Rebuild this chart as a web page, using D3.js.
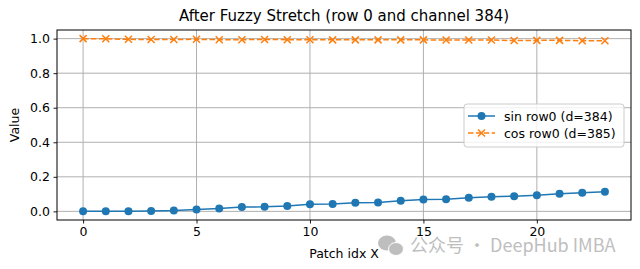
<!DOCTYPE html>
<html>
<head>
<meta charset="utf-8">
<script src="https://cdn.jsdelivr.net/npm/d3@7"></script>
<style>
body { margin: 0; background: #fff; }
svg { display: block; font-family: "DejaVu Sans", sans-serif; }
</style>
</head>
<body>
<div id="chart"></div>
<script>
var patchIdx = [0, 1, 2, 3, 4, 5, 6, 7, 8, 9, 10, 11, 12, 13, 14, 15, 16, 17, 18, 19, 20, 21, 22, 23];
var sinRow0 = [0.0, 0.0, 0.001, 0.002, 0.005, 0.011, 0.016, 0.025, 0.026, 0.031, 0.041, 0.042, 0.05, 0.052, 0.061, 0.068, 0.07, 0.079, 0.084, 0.088, 0.093, 0.102, 0.108, 0.113];
var cosRow0 = [1.0, 0.999, 0.996, 0.995, 0.995, 0.996, 0.994, 0.994, 0.995, 0.994, 0.994, 0.993, 0.993, 0.993, 0.993, 0.993, 0.992, 0.992, 0.992, 0.989, 0.99, 0.99, 0.988, 0.988];
var seriesNames = ["sin row0 (d=384)", "cos row0 (d=385)"];
var xTicks = [0, 5, 10, 15, 20];
var yTicks = [0.0, 0.2, 0.4, 0.6, 0.8, 1.0];

var width = 640, height = 269;
var margin = {top: 30, right: 9, bottom: 49, left: 57};
var blue = "#1f77b4", orange = "#ff7f0e";

var svg = d3.select("#chart").append("svg").attr("width", width).attr("height", height);

var x = d3.scaleLinear().domain([-1.15, 24.15]).range([margin.left, width - margin.right]);
var y = d3.scaleLinear().domain([-0.05, 1.05]).range([height - margin.bottom, margin.top]);

// grid
svg.append("g").selectAll("line").data(xTicks).enter().append("line")
    .attr("x1", function(d) { return x(d); }).attr("x2", function(d) { return x(d); })
    .attr("y1", margin.top).attr("y2", height - margin.bottom)
    .attr("stroke", "#b0b0b0").attr("stroke-width", 1);
svg.append("g").selectAll("line").data(yTicks).enter().append("line")
    .attr("y1", function(d) { return y(d); }).attr("y2", function(d) { return y(d); })
    .attr("x1", margin.left).attr("x2", width - margin.right)
    .attr("stroke", "#b0b0b0").attr("stroke-width", 1);

// axes
var xAxis = svg.append("g").attr("transform", "translate(0," + (height - margin.bottom) + ")")
    .call(d3.axisBottom(x).tickValues(xTicks).tickFormat(d3.format("d")).tickSizeOuter(0).tickSize(3.5).tickPadding(3.5));
var yAxis = svg.append("g").attr("transform", "translate(" + margin.left + ",0)")
    .call(d3.axisLeft(y).tickValues(yTicks).tickFormat(d3.format(".1f")).tickSizeOuter(0).tickSize(3.5).tickPadding(3.5));
[xAxis, yAxis].forEach(function(a) {
    a.select(".domain").remove();
    a.selectAll("text").attr("font-size", "12.5px").attr("fill", "#000").attr("font-family", "DejaVu Sans");
    a.selectAll("line").attr("stroke", "#000").attr("stroke-width", 0.9);
});

// lines
var sinLine = d3.line().x(function(d, i) { return x(patchIdx[i]); }).y(function(d) { return y(d); });

svg.append("path").datum(cosRow0).attr("d", sinLine)
    .attr("fill", "none").attr("stroke", orange).attr("stroke-width", 1.5)
    .attr("stroke-dasharray", "5.5,2.4");
svg.append("g").selectAll("path").data(cosRow0).enter().append("path")
    .attr("transform", function(d, i) { return "translate(" + x(patchIdx[i]) + "," + y(d) + ")"; })
    .attr("d", "M-3.5,-3.5L3.5,3.5M-3.5,3.5L3.5,-3.5")
    .attr("stroke", orange).attr("stroke-width", 1.5).attr("fill", "none");

svg.append("path").datum(sinRow0).attr("d", sinLine)
    .attr("fill", "none").attr("stroke", blue).attr("stroke-width", 1.5);
svg.append("g").selectAll("circle").data(sinRow0).enter().append("circle")
    .attr("cx", function(d, i) { return x(patchIdx[i]); })
    .attr("cy", function(d) { return y(d); })
    .attr("r", 4).attr("fill", blue);

// frame
svg.append("rect").attr("x", margin.left).attr("y", margin.top)
    .attr("width", width - margin.left - margin.right).attr("height", height - margin.top - margin.bottom)
    .attr("fill", "none").attr("stroke", "#000").attr("stroke-width", 1);

// title and labels
svg.append("text").attr("x", (margin.left + width - margin.right) / 2).attr("y", 21)
    .attr("text-anchor", "middle").attr("font-size", "15px").text("After Fuzzy Stretch (row 0 and channel 384)");
svg.append("text").attr("x", (margin.left + width - margin.right) / 2).attr("y", 258)
    .attr("text-anchor", "middle").attr("font-size", "12.5px").text("Patch idx X");
svg.append("text").attr("transform", "translate(19," + ((margin.top + height - margin.bottom) / 2) + ") rotate(-90)")
    .attr("text-anchor", "middle").attr("font-size", "12.5px").text("Value");

// legend
var lg = svg.append("g").attr("transform", "translate(464,104)");
lg.append("rect").attr("width", 160).attr("height", 43).attr("rx", 3)
    .attr("fill", "#fff").attr("fill-opacity", 0.8).attr("stroke", "#cccccc").attr("stroke-width", 1);
seriesNames.forEach(function(name, i) {
    var row = lg.append("g").attr("transform", "translate(0," + (12 + i * 17) + ")");
    var line = row.append("line").attr("x1", 4).attr("x2", 31).attr("y1", 0).attr("y2", 0)
        .attr("stroke", i === 0 ? blue : orange).attr("stroke-width", 1.5);
    if (i === 0) {
        row.append("circle").attr("cx", 17.5).attr("cy", 0).attr("r", 4).attr("fill", blue);
    } else {
        line.attr("stroke-dasharray", "5.5,2.4");
        row.append("path").attr("transform", "translate(17.5,0)")
            .attr("d", "M-3.5,-3.5L3.5,3.5M-3.5,3.5L3.5,-3.5")
            .attr("stroke", orange).attr("stroke-width", 1.5);
    }
    row.append("text").attr("x", 40).attr("y", 4.5).attr("font-size", "12.5px").text(name);
});

// watermark
var wm = svg.append("g").attr("opacity", 0.55);
wm.append("ellipse").attr("cx", 387).attr("cy", 243).attr("rx", 9).attr("ry", 7.5).attr("fill", "#8a8a8a");
wm.append("ellipse").attr("cx", 396).attr("cy", 249).attr("rx", 7.5).attr("ry", 6.5).attr("fill", "#8a8a8a").attr("stroke", "#fff").attr("stroke-width", 1);
wm.append("text").attr("x", 410).attr("y", 252).attr("font-size", "18px")
    .attr("font-family", "'Noto Sans CJK SC', 'Noto Sans', sans-serif").attr("fill", "#8a8a8a")
    .text("公众号 · DeepHub IMBA");
</script>
</body>
</html>
